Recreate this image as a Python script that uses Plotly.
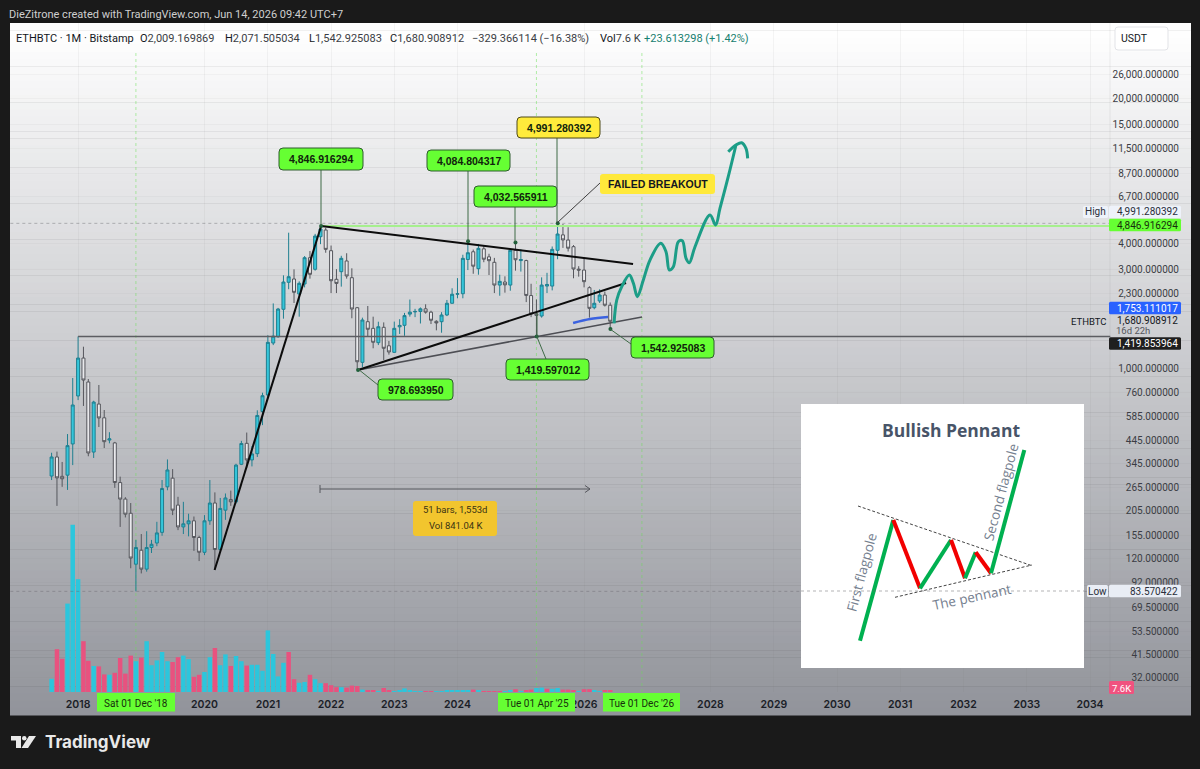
import pandas as pd
import plotly.graph_objects as go

W, H = 1200, 769

# ---------- data ----------
opens = [301, 372, 300, 304, 430,
         733, 1117, 856, 393, 670, 575, 449, 435, 280, 233, 199, 113,
         132, 107, 136, 143, 161, 267, 294, 218, 171, 177, 183, 152,
         129, 183, 223, 133, 206, 232, 226, 343, 433, 360, 386, 616,
         741, 1320, 1415, 1920, 2592, 2689, 2276, 2544, 3407, 2995, 4303, 4634,
         3683, 2680, 2916, 3285, 2728, 1954, 1065, 1673, 1554, 1325, 1572, 1280,
         1190, 1580, 1607, 1820, 1865, 1875, 1930, 1860, 1680, 1673, 1802, 2053,
         2270, 2283, 3340, 3640, 3015, 3760, 3440, 3237, 2514, 2600, 2514, 3700,
         3300, 3300, 2237, 1825, 1782, 2486, 2486, 3698, 4390, 4146, 3850, 3000,
         2970, 2441, 1954, 2106, 2250, 2009.17]
highs = [390, 395, 352, 480, 895,
         1419.85, 1267, 885, 695, 828, 627, 490, 440, 299, 238, 223, 148,
         158, 163, 148, 181, 288, 362, 325, 239, 226, 198, 192, 155,
         195, 288, 251, 236, 248, 256, 345, 445, 488, 420, 625, 760,
         1440, 2050, 1950, 2800, 4498, 2995, 2620, 3470, 3670, 4440, 4846.92, 4750,
         3900, 3000, 3480, 3580, 3028, 1970, 1750, 1992, 1769, 1673, 1660, 1350,
         1675, 1720, 1845, 2140, 1930, 1960, 2030, 1890, 1700, 1860, 2130, 2425,
         2715, 3520, 4084.8, 3730, 3970, 3890, 3560, 3400, 2820, 2770, 3750, 4032.57,
         3740, 3330, 2550, 2140, 2738, 2880, 3860, 4991.28, 4950, 4780, 3920, 3100,
         3370, 2480, 2380, 2400, 2340, 2071.51]
lows = [288, 216, 267, 258, 340,
        700, 656, 375, 368, 519, 411, 433, 264, 171, 190, 108, 83.57,
        102, 104, 128, 138, 155, 257, 195, 165, 158, 154, 131, 117,
        125, 175, 106, 130, 185, 216, 222, 340, 330, 335, 372, 530,
        715, 1290, 1400, 1730, 2400, 2059, 1769, 2450, 2700, 2950, 3960, 3600,
        2300, 2300, 2470, 2700, 1738, 978.69, 1010, 1427, 1245, 1290, 1093, 1160,
        1185, 1460, 1430, 1770, 1760, 1640, 1830, 1630, 1520, 1480, 1780, 2050,
        2170, 2170, 2970, 2850, 2820, 3240, 2810, 2300, 2233, 2310, 2360, 2950,
        2920, 2080, 1760, 1419.6, 1750, 2300, 2370, 3350, 3800, 3650, 2710, 2760,
        2450, 1750, 1920, 2060, 1980, 1542.93]
closes = [372, 295, 292, 422, 663,
          1117, 875, 389, 685, 574, 441, 455, 280, 233, 197, 121, 136,
          107, 136, 141, 160, 262, 322, 206, 171, 177, 183, 152, 129,
          183, 223, 133, 210, 236, 226, 340, 432, 360, 385, 590, 735,
          1330, 1425, 1926, 2600, 2759, 2319, 2563, 3407, 2832, 4335, 4686, 3738,
          2638, 2560, 3383, 2780, 1926, 1072, 1705, 1538, 1331, 1582, 1245, 1195,
          1554, 1605, 1790, 1860, 1875, 1930, 1860, 1700, 1650, 1802, 2053, 2270,
          2283, 3383, 3600, 3100, 3780, 3350, 3296, 2514, 2620, 2520, 3700, 3330,
          3340, 2240, 1825, 1794, 2514, 2530, 3738, 4433, 4150, 3785, 3005, 2970,
          2610, 1941, 2053, 2250, 2009, 1680.91]
volumes = [66, 214, 166, 442, 836,
           564, 254, 156, 130, 128, 88, 86, 96, 170, 92, 182, 154,
           172, 254, 134, 158, 200, 154, 150, 174, 182, 164, 76, 86,
           100, 174, 220, 134, 188, 130, 180, 154, 132, 136, 136, 106,
           308, 190, 78, 146, 200, 64, 46, 50, 86, 64, 44, 44,
           34, 24, 24, 22, 32, 30, 12, 10, 10, 2, 20, 8,
           4, 8, 18, 8, 4, 4, 4, 4, 2, 4, 6, 6,
           6, 8, 8, 12, 6, 2, 4, 4, 4, 2, 10, 14,
           4, 8, 12, 20, 22, 16, 16, 20, 12, 12, 6, 2,
           14, 14, 8, 2, 6, 7.6]
volume_side = list("cppcc" "cppcppcppppc" "pcccccppccpp" "ccpccpccpccc" "ccccppccpccp"
                   "ppcpppcppcpp" "ccccccppcccc" "cccpcppppccp" "cppccpccpppc" "ppccpp")
year_ticks = [2018, 2020, 2021, 2022, 2023, 2024, 2026, 2028, 2029, 2030, 2031, 2032, 2033, 2034]
price_ticks = [26000, 20000, 15000, 11500, 8700, 6700, 4000, 3000, 2300, 1000, 760, 585,
               445, 345, 265, 205, 155, 120, 92, 69.5, 53.5, 41.5, 32]

flagpole_year, flagpole_price = [2020.16, 2021.842], [106, 4846.92]
upper_year, upper_price = [2021.842, 2026.775], [4846.92, 3177]
lower_year, lower_price = [2022.427, 2026.664], [978.69, 2572]
base_year, base_price = [2022.427, 2026.917], [978.69, 1762]
res_year, res_price = [2021.842, 2034.32], [4846.92, 4846.92]
ath_year, ath_price = [2018.0, 2034.32], [1419.85, 1419.85]
hi_year, hi_price = [2016.93, 2034.32], [4991.28, 4991.28]
lo_year, lo_price = [2016.93, 2034.32], [83.57, 83.57]
blue_year = [2025.826, 2026.095, 2026.379]
blue_price = [1649, 1724, 1762]
sketch_year = [2026.474, 2026.517, 2026.596, 2026.716, 2026.780, 2026.843, 2026.937, 2027.043,
               2027.213, 2027.296, 2027.349, 2027.412, 2027.491, 2027.554, 2027.613, 2027.665,
               2027.755, 2027.992, 2028.082, 2028.150, 2028.281, 2028.403]
sketch_price = [1643, 2129, 2469, 2811, 2563, 2209, 2659, 3320, 3998, 3641, 2972, 3082, 4069,
                4115, 3383, 3222, 3849, 5476, 4900, 5898, 8380, 11919]
hook_year = [2028.281, 2028.403, 2028.493, 2028.561, 2028.588]
hook_price = [11063, 11919, 12227, 11490, 10282]
pivot_year = [2021.842, 2024.167, 2024.917, 2025.583, 2022.427, 2025.25, 2026.417]
pivot_price = [4846.92, 4084.8, 4032.57, 4991.28, 978.69, 1419.6, 1542.93]

# ---------- helpers ----------
def px(x):
    return x / W

def py(y):
    return 1 - y / H

def year_to_date(y):
    yr = int(y)
    return (pd.Timestamp(year=yr, month=1, day=1) + pd.Timedelta(days=(y - yr) * 365.25)).strftime("%Y-%m-%d %H:%M")

def dates(ys):
    return [year_to_date(y) for y in ys]

def rrect(x0, y0, x1, y1, r, fill, line=None, lw=1):
    rx, ry = r / W, r / H
    a, b, c, d = px(x0), px(x1), py(y0), py(y1)
    path = (f"M{a + rx},{c} L{b - rx},{c} Q{b},{c} {b},{c - ry} L{b},{d + ry} Q{b},{d} {b - rx},{d} "
            f"L{a + rx},{d} Q{a},{d} {a},{d + ry} L{a},{c - ry} Q{a},{c} {a + rx},{c} Z")
    return dict(type="path", path=path, xref="paper", yref="paper", fillcolor=fill,
                line=dict(color=line if line else fill, width=lw if line else 0), layer="above")

def seg(x0, y0, x1, y1, color, width=1, dash="solid"):
    return dict(type="line", xref="paper", yref="paper", x0=px(x0), y0=py(y0), x1=px(x1), y1=py(y1),
                line=dict(color=color, width=width, dash=dash), layer="above")

def txt(s, x, y, color="#131722", size=10, anchor="center", font="Roboto", angle=0):
    return dict(text=s, x=px(x), y=py(y), xref="paper", yref="paper", showarrow=False, xanchor=anchor,
                yanchor="middle", font=dict(color=color, size=size, family=font), textangle=angle,
                borderpad=0, borderwidth=0)

# ---------- figure ----------
months = pd.date_range("2017-08-01", periods=len(opens), freq="MS")
fig = go.Figure()

fig.add_trace(go.Bar(x=months, y=volumes, yaxis="y", width=26 * 86400000,
                     marker=dict(color=["#2cc6dc" if s == "c" else "#e8527f" for s in volume_side], line=dict(width=0)),
                     showlegend=False, hoverinfo="skip"))
fig.add_trace(go.Candlestick(x=months, open=opens, high=highs, low=lows, close=closes, yaxis="y2",
                             whiskerwidth=0, showlegend=False,
                             increasing=dict(fillcolor="#35c6da", line=dict(color="#1f7f90", width=1)),
                             decreasing=dict(fillcolor="#e9e9ec", line=dict(color="#55565c", width=1))))

def line(xs, ys, color, width, shape="linear", dash="solid"):
    fig.add_trace(go.Scatter(x=dates(xs), y=ys, yaxis="y2", mode="lines", showlegend=False, hoverinfo="skip",
                             line=dict(color=color, width=width, shape=shape, dash=dash)))

line(hi_year, hi_price, "rgba(105,105,110,0.45)", 1, dash="dot")
line(lo_year, lo_price, "rgba(105,105,110,0.45)", 1, dash="dot")
line(res_year, res_price, "#a6ef8e", 2)
line(ath_year, ath_price, "#5c5d62", 1.5)
line(base_year, base_price, "#4d4e54", 1.6)
line(flagpole_year, flagpole_price, "#0c0c0c", 2)
line(upper_year, upper_price, "#0c0c0c", 2)
line(lower_year, lower_price, "#0c0c0c", 2)
line(blue_year, blue_price, "#3b62e0", 2.5, shape="spline")
line(sketch_year, sketch_price, "#1c9d87", 3, shape="spline")
line(hook_year, hook_price, "#1c9d87", 3, shape="spline")
fig.add_trace(go.Scatter(x=dates(pivot_year), y=pivot_price, yaxis="y2", mode="markers", showlegend=False,
                         hoverinfo="skip", marker=dict(color="#1f5f3a", size=4)))

shapes = []
# background gradient of the chart pane
bands = 96
top, bottom = 23, 715
for i in range(bands):
    t = i / (bands - 1)
    c = [round(255 + (e - 255) * t) for e in (0x92, 0x94, 0x9b)]
    y0 = top + (bottom - top) * i / bands
    y1 = top + (bottom - top) * (i + 1) / bands + 0.5
    shapes.append(dict(type="rect", xref="paper", yref="paper", x0=px(10), x1=px(1191), y0=py(y0), y1=py(y1),
                       fillcolor=f"rgb({c[0]},{c[1]},{c[2]})", line=dict(width=0), layer="below"))
# scale separator
shapes.append(seg(1110, 23, 1110, 692, "rgba(120,120,125,0.12)"))
# event verticals
for d in ["2018-12-01", "2025-04-01", "2026-12-01"]:
    shapes.append(dict(type="line", xref="x", yref="paper", x0=d, x1=d, y0=py(692), y1=py(50),
                       line=dict(color="rgba(105,225,85,0.5)", width=1, dash="dot"), layer="below"))

ann = []
# header
ann.append(txt("DieZitrone created with TradingView.com, Jun 14, 2026 09:42 UTC+7", 9, 14, "#cfcfcf", 11, "left"))
legend_items = [("ETHBTC · 1M · Bitstamp", 16, "#131722"),
                ("<span style='color:#131722'>O</span>2,009.169869", 140, "#3b3d44"),
                ("<span style='color:#131722'>H</span>2,071.505034", 225, "#3b3d44"),
                ("<span style='color:#131722'>L</span>1,542.925083", 309, "#3b3d44"),
                ("<span style='color:#131722'>C</span>1,680.908912", 390, "#3b3d44"),
                ("−329.366114 (−16.38%)", 472, "#3b3d44"),
                ("<span style='color:#131722'>Vol</span>7.6 K", 600, "#3b3d44"),
                ("+23.613298 (+1.42%)", 644, "#17806f")]
for s, x, c in legend_items:
    ann.append(txt(s, x, 38, c, 11, "left"))

# USDT button
shapes.append(rrect(1115, 27, 1168, 50, 3, "#ffffff", "#e2e3e7"))
ann.append(txt("USDT", 1134, 38, "#131722", 10.5))

# callouts
GREEN, YEL = "#66ff33", "#ffeb3b"
callouts = [
    (279, 148, 363, 170, "4,846.916294", GREEN, [(321, 170, 321, 226)]),
    (427, 150, 510, 171, "4,084.804317", GREEN, [(468, 171, 468, 242)]),
    (474, 186, 557, 207, "4,032.565911", GREEN, [(515, 207, 515, 242)]),
    (517, 117, 600, 138, "4,991.280392", YEL, [(557, 138, 557, 223)]),
    (506, 359, 589, 380, "1,419.597012", GREEN, [(537, 337, 546, 359), (537, 313, 537, 337)]),
    (631, 337, 714, 358, "1,542.925083", GREEN, [(610, 329, 631, 344)]),
    (378, 379, 453, 400, "978.693950", GREEN, [(358, 369, 378, 385)]),
]
for x0, y0, x1, y1, s, fill, conns in callouts:
    for c in conns:
        shapes.append(seg(*c, "#3f6b47", 1))
    shapes.append(rrect(x0, y0, x1, y1, 4, fill, "#2e5c2e" if fill == GREEN else "#4f4a1a"))
    ann.append(txt(f"<b>{s}</b>", (x0 + x1) / 2, (y0 + y1) / 2 + 0.5, "#10240c", 10.5, font="Liberation Sans"))
# failed breakout
shapes.append(seg(600, 183, 557, 223, "#3f3f3f", 1))
shapes.append(rrect(600, 174, 715, 194, 3, "#ffe93b"))
ann.append(txt("<b>FAILED BREAKOUT</b>", 657.5, 184, "#131722", 10.5, font="Liberation Sans"))

# date range tool
shapes += [seg(320, 489, 590, 489, "#55565c"), seg(320, 485, 320, 493, "#55565c"),
           seg(585, 485.5, 590, 489, "#55565c"), seg(585, 492.5, 590, 489, "#55565c")]
shapes.append(rrect(413, 501, 497, 536, 3, "#f2c52e"))
ann.append(txt("51 bars, 1,553d", 455, 510, "#3a3312", 9.5))
ann.append(txt("Vol 841.04 K", 455, 525, "#3a3312", 9.5))

# inset
shapes.append(dict(type="rect", xref="paper", yref="paper", x0=px(801), x1=px(1084), y0=py(404), y1=py(668),
                   fillcolor="#ffffff", line=dict(width=0), layer="above"))
shapes.append(seg(858, 506, 1032, 565.7, "#444444", 1, "3px,2px"))
shapes.append(seg(895, 597.3, 1032, 565, "#444444", 1, "3px,2px"))
pts = [(860, 640.7), (893.3, 520), (920, 588.3), (951, 540), (965, 578.3), (975.7, 552.3), (991, 573.3), (1024.3, 450)]
for i in range(len(pts) - 1):
    shapes.append(seg(*pts[i], *pts[i + 1], "#00b050" if i % 2 == 0 else "#f20000", 4))
ann.append(txt("<b>Bullish Pennant</b>", 951, 430, "#485468", 17.5, font="Open Sans"))
ann.append(txt("First flagpole", 861.7, 572, "#75808f", 13.5, font="Open Sans", angle=-75))
ann.append(txt("Second flagpole", 1001, 492, "#75808f", 13.5, font="Open Sans", angle=-75))
ann.append(txt("The pennant", 972, 597, "#75808f", 13.5, font="Open Sans", angle=-12))
# low dots pass over the inset
shapes.append(seg(801, 591, 1084, 591, "rgba(105,105,110,0.5)", 1, "dot"))

# price tags
def tag(y, s, fill, color, x0=1109, x1=1181, h=12.5):
    shapes.append(rrect(x0, y - h / 2, x1, y + h / 2, 1.5, fill))
    ann.append(txt(s, x1 - 3, y, color, 10, "right"))

tag(212, "4,991.280392", "#eef2fa", "#2a2e39")
tag(225, "4,846.916294", "#66ff33", "#16300c")
tag(308, "1,753.111017", "#2962ff", "#ffffff")
tag(343.5, "1,419.853964", "#1f1f1f", "#ffffff")
tag(591, "83.570422", "#e9edf5", "#2a2e39")
shapes.append(rrect(1083, 206, 1108, 218, 1.5, "#eef2fa"))
ann.append(txt("High", 1095.5, 212, "#2a2e39", 10))
shapes.append(rrect(1087, 585, 1108, 597, 1.5, "#e9edf5"))
ann.append(txt("Low", 1097.5, 591, "#2a2e39", 10))
ann.append(txt("ETHBTC", 1088, 321, "#131722", 9.5))
ann.append(txt("1,680.908912", 1178, 320, "#131722", 10, "right"))
ann.append(txt("16d 22h", 1116, 330.5, "#55565c", 9.5, "left"))
shapes.append(rrect(1109, 681, 1134, 694, 1.5, "#f0527f"))
ann.append(txt("7.6K", 1121.5, 688, "#ffffff", 9.5))

# date tags
for x0, x1, s in [(97, 175, "Sat 01 Dec '18"), (498, 575, "Tue 01 Apr '25"), (603, 680, "Tue 01 Dec '26")]:
    shapes.append(dict(type="rect", xref="paper", yref="paper", x0=px(x0), x1=px(x1), y0=py(693), y1=py(711.5),
                       fillcolor="#66ff33", line=dict(width=0), layer="above"))
    ann.append(txt(s, (x0 + x1) / 2, 703, "#16300c", 10))

# TradingView logo
LOGO = "#e9e9e9"
ann.append(txt("<b>TradingView</b>", 45, 742, LOGO, 17, "left", font="Inter"))
shapes.append(dict(type="path", xref="paper", yref="paper", layer="above", fillcolor=LOGO, line=dict(width=0),
                   path=f"M{px(11)},{py(736)} L{px(21)},{py(736)} L{px(21)},{py(748)} L{px(16)},{py(748)} L{px(16)},{py(740.5)} L{px(11)},{py(740.5)} Z"))
shapes.append(dict(type="circle", xref="paper", yref="paper", layer="above", fillcolor=LOGO, line=dict(width=0),
                   x0=px(22), x1=px(26.5), y0=py(736), y1=py(740.5)))
shapes.append(dict(type="path", xref="paper", yref="paper", layer="above", fillcolor=LOGO, line=dict(width=0),
                   path=f"M{px(29)},{py(736)} L{px(36)},{py(736)} L{px(28)},{py(748)} L{px(21.5)},{py(748)} Z"))

x_start = year_to_date(2018 - 68 / 63.25)
x_end = year_to_date(2018 + (1191 - 78) / 63.25)
dom = [1 - 692 / H, 1 - 23 / H]
fig.update_layout(
    width=W, height=H, autosize=False, margin=dict(l=0, r=0, t=0, b=0), paper_bgcolor="#1a1a1a",
    plot_bgcolor="rgba(0,0,0,0)", showlegend=False, shapes=shapes, annotations=ann, dragmode=False, bargap=0.1,
    boxgap=0.12, font=dict(family="Roboto", color="#131722"),
    xaxis=dict(type="date", domain=[px(10), px(1191)], range=[x_start, x_end], rangeslider=dict(visible=False),
               tickvals=[f"{y}-01-01" for y in year_ticks], ticktext=[str(y) for y in year_ticks],
               tickfont=dict(family="Inter", size=10.5, color="#1b1e27", weight=600), ticks="", showline=False,
               zeroline=False, showgrid=True, gridcolor="rgba(110,110,120,0.07)", ticklabelstandoff=4),
    yaxis=dict(domain=dom, range=[0, 3345], visible=False, showgrid=False, fixedrange=True),
    yaxis2=dict(type="log", domain=dom, range=[1.4363, 4.6651], overlaying="y", side="right", anchor="x",
                tickvals=price_ticks, ticktext=[f"{p:,.6f}" for p in price_ticks], ticklabelposition="inside",
                ticks="", tickfont=dict(family="Roboto", size=10, color="#3b3d44"), ticklabelstandoff=9,
                showgrid=True, gridcolor="rgba(110,110,120,0.05)", zeroline=False, showline=False),
)
fig.write_html("out.html", config={"displayModeBar": False},
               post_script="document.body.style.margin='0';document.body.style.overflow='hidden';")
